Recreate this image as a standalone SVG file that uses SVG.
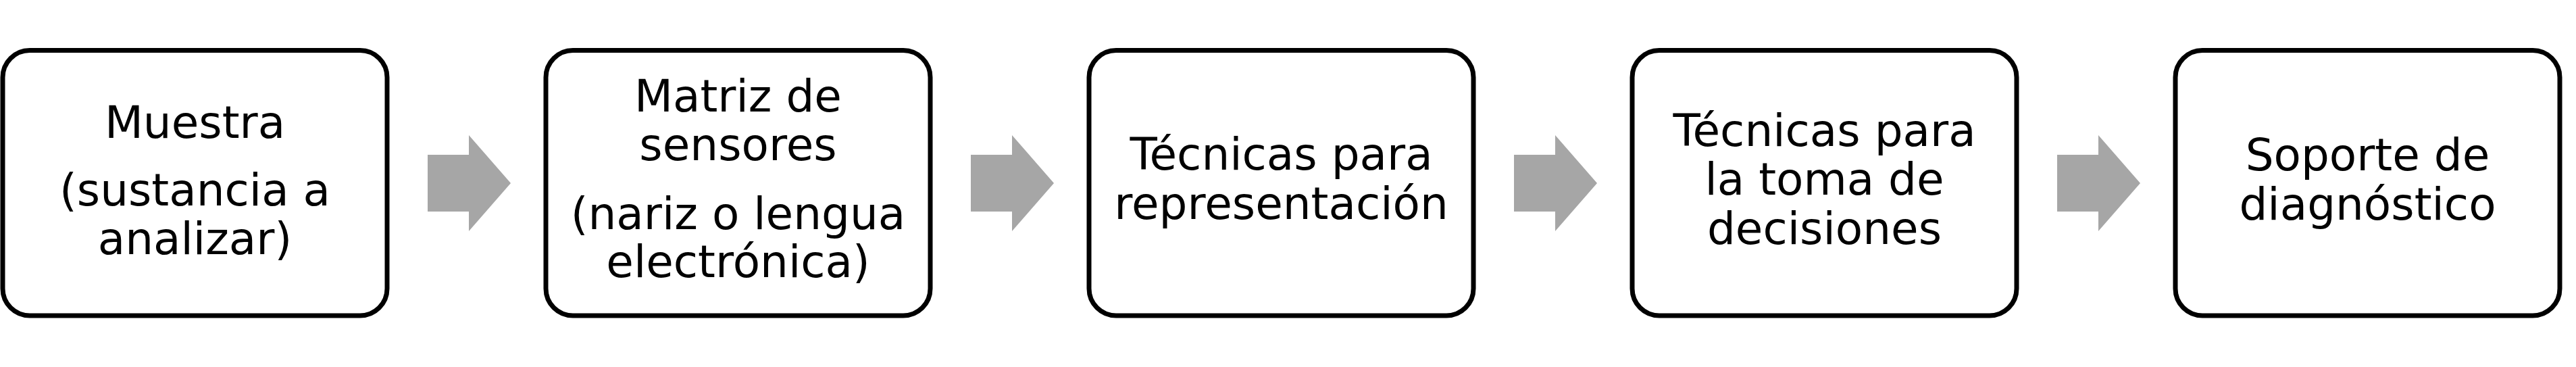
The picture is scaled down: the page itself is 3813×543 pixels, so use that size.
<svg xmlns="http://www.w3.org/2000/svg" width="3813" height="543" viewBox="0 0 3813 543">
<style>
.box{fill:#ffffff;stroke:#000000;stroke-width:7}
.lbl{font-family:"DejaVu Sans",sans-serif;font-size:66px;fill:#000000;text-anchor:middle}
.arr{fill:#a6a6a6;stroke:none}
</style>
<rect width="3813" height="543" fill="#ffffff"/>
<g id="connectors">
<polygon class="arr" points="633,229 694,229 694,200 756,271 694,342 694,313 633,313"/>
<polygon class="arr" points="1437,229 1498,229 1498,200 1560,271 1498,342 1498,313 1437,313"/>
<polygon class="arr" points="2241,229 2302,229 2302,200 2364,271 2302,342 2302,313 2241,313"/>
<polygon class="arr" points="3045,229 3106,229 3106,200 3168,271 3106,342 3106,313 3045,313"/>
</g>
<g id="node1">
<rect class="box" x="4" y="74.5" width="569" height="392.5" rx="40" ry="40"/>
<text class="lbl" x="288.5" y="204">Muestra</text>
<text class="lbl" x="288.5" y="304">(sustancia a</text>
<text class="lbl" x="288.5" y="376">analizar)</text>
</g>
<g id="node2">
<rect class="box" x="808" y="74.5" width="569" height="392.5" rx="40" ry="40"/>
<text class="lbl" x="1092.5" y="165">Matriz de</text>
<text class="lbl" x="1092.5" y="237">sensores</text>
<text class="lbl" x="1092.5" y="339">(nariz o lengua</text>
<text class="lbl" x="1092.5" y="410">electrónica)</text>
</g>
<g id="node3">
<rect class="box" x="1612" y="74.5" width="569" height="392.5" rx="40" ry="40"/>
<text class="lbl" x="1896.5" y="251">Técnicas para</text>
<text class="lbl" x="1896.5" y="324">representación</text>
</g>
<g id="node4">
<rect class="box" x="2416" y="74.5" width="569" height="392.5" rx="40" ry="40"/>
<text class="lbl" x="2700.5" y="216">Técnicas para</text>
<text class="lbl" x="2700.5" y="288">la toma de</text>
<text class="lbl" x="2700.5" y="361">decisiones</text>
</g>
<g id="node5">
<rect class="box" x="3220" y="74.5" width="569" height="392.5" rx="40" ry="40"/>
<text class="lbl" x="3504.5" y="252">Soporte de</text>
<text class="lbl" x="3504.5" y="325">diagnóstico</text>
</g>
</svg>
